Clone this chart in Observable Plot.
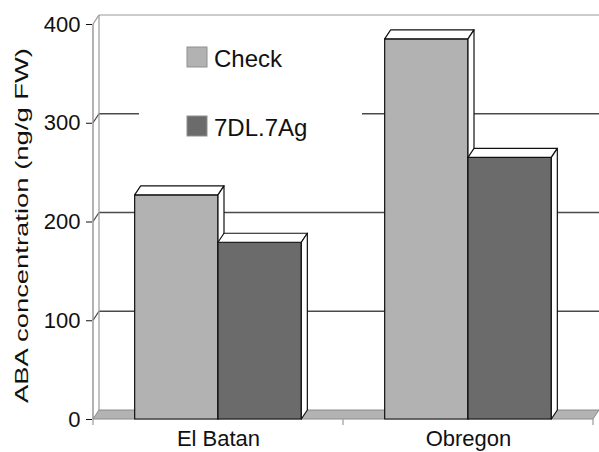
<!DOCTYPE html>
<html>
<head>
<meta charset="utf-8">
<script src="https://cdn.jsdelivr.net/npm/d3@7"></script>
<script src="https://cdn.jsdelivr.net/npm/@observablehq/plot@0.6"></script>
<style>
  html, body { margin: 0; padding: 0; background: #fff; }
</style>
</head>
<body>
<div id="chart"></div>
<script>
// ---- data ----
const locations = ["El Batan", "Obregon"];
const series = ["Check", "7DL.7Ag"];
const checkValues = [227, 385];
const lineValues = [179, 265];
const seriesColors = ["#b2b2b2", "#6b6b6b"];
const yTicks = [0, 100, 200, 300, 400];
const yLabel = "ABA concentration (ng/g FW)";

const rows = [];
locations.forEach((loc, i) => {
  rows.push({location: loc, series: series[0], value: checkValues[i]});
  rows.push({location: loc, series: series[1], value: lineValues[i]});
});
const colorOf = new Map(series.map((s, i) => [s, seriesColors[i]]));

// depth offset of the pseudo-3D drawing (pixels)
const DX = 6, DY = -9;

function bw(x) { return x.bandwidth ? x.bandwidth() : 0; }

// walls, floor, gridlines
function walls(index, {x, y}) {
  const g = d3.create("svg:g");
  const X0 = x(locations[0]);
  const X1 = x(locations[locations.length - 1]) + bw(x);
  const y0 = y(yTicks[0]), yTop = y(yTicks[yTicks.length - 1]);
  g.append("polygon")
    .attr("points", [[X0, y0], [X0, yTop], [X0 + DX, yTop + DY], [X0 + DX, y0 + DY]].join(" "))
    .attr("fill", "white").attr("stroke", "none");
  g.append("polygon")
    .attr("points", [[X0, y0], [X1, y0], [X1 + DX, y0 + DY], [X0 + DX, y0 + DY]].join(" "))
    .attr("fill", "#b3b3b3").attr("stroke", "#8a8a8a").attr("stroke-width", 1);
  yTicks.slice(1).forEach((v, k, arr) => {
    const yy = y(v);
    const top = k === arr.length - 1;
    const col = top ? "#9a9a9a" : "#4a4a4a";
    g.append("line").attr("x1", X0).attr("y1", yy).attr("x2", X0 + DX).attr("y2", yy + DY)
      .attr("stroke", col).attr("stroke-width", 1.3);
    g.append("line").attr("x1", X0 + DX).attr("y1", yy + DY).attr("x2", X1 + DX).attr("y2", yy + DY)
      .attr("stroke", col).attr("stroke-width", top ? 1.2 : 1.5);
  });
  g.append("line").attr("x1", X0 + DX).attr("x2", X0 + DX).attr("y1", y0 + DY).attr("y2", yTop + DY)
    .attr("stroke", "#9a9a9a").attr("stroke-width", 1.2);
  g.append("line").attr("x1", X0).attr("x2", X0).attr("y1", y0).attr("y2", yTop)
    .attr("stroke", "#8a8a8a").attr("stroke-width", 1.3);
  const bounds = locations.map(l => x(l)).concat([X1]);
  bounds.forEach(bx => {
    g.append("line").attr("x1", bx).attr("x2", bx).attr("y1", y0).attr("y2", y0 + 6)
      .attr("stroke", "#9a9a9a").attr("stroke-width", 1.2);
  });
  return g.node();
}

// 3D bars
function bars(index, {x, y}) {
  const g = d3.create("svg:g")
    .attr("stroke", "#111").attr("stroke-width", 1.2).attr("stroke-linejoin", "round");
  const inner = d3.scaleBand().domain(series).range([0, bw(x)]).paddingInner(0).paddingOuter(0.5);
  const y0 = y(0);
  rows.forEach(d => {
    const xl = x(d.location) + inner(d.series);
    const xr = xl + inner.bandwidth();
    const yt = y(d.value);
    g.append("rect").attr("x", xl).attr("y", yt).attr("width", xr - xl).attr("height", y0 - yt)
      .attr("fill", colorOf.get(d.series));
    g.append("polygon")
      .attr("points", [[xl, yt], [xr, yt], [xr + DX, yt + DY], [xl + DX, yt + DY]].join(" "))
      .attr("fill", "white");
    g.append("polygon")
      .attr("points", [[xr, yt], [xr + DX, yt + DY], [xr + DX, y0 + DY], [xr, y0]].join(" "))
      .attr("fill", "white");
  });
  return g.node();
}

// legend (inside the plot)
function legend() {
  const g = d3.create("svg:g").attr("text-anchor", "start");
  g.append("rect").attr("x", 139).attr("y", 30).attr("width", 223).attr("height", 122).attr("fill", "white");
  series.forEach((s, i) => {
    const top = 47 + i * 69;
    g.append("rect").attr("x", 187).attr("y", top).attr("width", 20).attr("height", 20)
      .attr("fill", seriesColors[i]).attr("stroke", "#8f8f8f").attr("stroke-width", 1);
    g.append("text").attr("x", 214).attr("y", top + 19.5).attr("text-anchor", "start")
      .attr("font-size", 24).attr("fill", "#111").text(s);
  });
  return g.node();
}

// rotated y label
function yTitle(index, {y}) {
  const cy = (y(0) + y(400)) / 2 + 4;
  const g = d3.create("svg:g");
  g.append("text")
    .attr("transform", `translate(28,${cy}) rotate(-90)`)
    .attr("text-anchor", "middle")
    .attr("font-size", 19)
    .attr("textLength", 355)
    .attr("lengthAdjust", "spacingAndGlyphs")
    .attr("fill", "#111")
    .text(yLabel);
  return g.node();
}

const chart = Plot.plot({
  width: 599,
  height: 452,
  marginLeft: 92,
  marginRight: 6,
  marginTop: 24,
  marginBottom: 33,
  style: {
    fontFamily: "'Liberation Sans', Arial, sans-serif",
    fontSize: "22px",
    color: "#111",
    background: "white",
    overflow: "visible"
  },
  x: {type: "band", domain: locations, padding: 0, label: null, tickSize: 0, tickPadding: 11},
  y: {domain: [0, 400], ticks: yTicks, label: null, tickSize: 6, tickPadding: 6},
  marks: [walls, bars, legend, yTitle]
});
document.getElementById("chart").appendChild(chart);
</script>
</body>
</html>
